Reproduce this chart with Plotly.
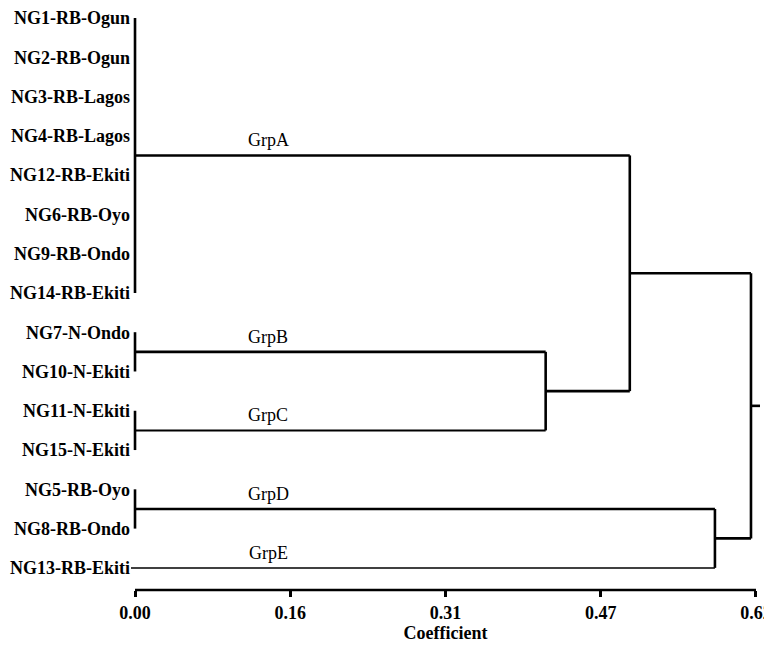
import plotly.graph_objects as go

# ---------------- data ----------------
leaf_labels = [
    "NG1-RB-Ogun", "NG2-RB-Ogun", "NG3-RB-Lagos", "NG4-RB-Lagos",
    "NG12-RB-Ekiti", "NG6-RB-Oyo", "NG9-RB-Ondo", "NG14-RB-Ekiti",
    "NG7-N-Ondo", "NG10-N-Ekiti", "NG11-N-Ekiti", "NG15-N-Ekiti",
    "NG5-RB-Oyo", "NG8-RB-Ondo", "NG13-RB-Ekiti",
]
group_names = ["GrpA", "GrpB", "GrpC", "GrpD", "GrpE"]
group_first = [0, 8, 10, 12, 14]
group_last = [7, 9, 11, 13, 14]
group_height = [0.0, 0.0, 0.0, 0.0, 0.0]

# merges: (left child, right child, new node name, coefficient)
merges = [
    ("GrpB", "GrpC", "BC", 0.41),
    ("GrpA", "BC", "ABC", 0.494),
    ("GrpD", "GrpE", "DE", 0.579),
    ("ABC", "DE", "ROOT", 0.615),
]
root_stub_end = 0.624

tick_vals = [0.0, 0.155, 0.31, 0.465, 0.62]
tick_text = ["0.00", "0.16", "0.31", "0.47", "0.62"]
x_title = "Coefficient"

# ---------------- figure ----------------
FONT = "Liberation Serif"
FS = 18
THICK = 2.6
thin_branch = {"GrpC": 2.0, "GrpE": 1.5}

fig = go.Figure()


def seg(x0, y0, x1, y1, w=THICK):
    fig.add_trace(go.Scatter(
        x=[x0, x1], y=[y0, y1], mode="lines",
        line=dict(color="black", width=w),
        showlegend=False, hoverinfo="skip",
    ))


nodes = {}
for name, f, l, h in zip(group_names, group_first, group_last, group_height):
    c = (f + l) / 2
    if l > f:
        seg(h, f, h, l)
        nodes[name] = (h, c)
    else:
        nodes[name] = (h - 0.004, c)

for a, b, new, hgt in merges:
    ha, ca = nodes[a]
    hb, cb = nodes[b]
    seg(ha, ca, hgt, ca, thin_branch.get(a, THICK))
    seg(hb, cb, hgt, cb, thin_branch.get(b, THICK))
    seg(hgt, ca, hgt, cb)
    nodes[new] = (hgt, (ca + cb) / 2)

rh, rc = nodes["ROOT"]
seg(rh, rc, root_stub_end, rc)

# group labels
for name in group_names:
    fig.add_annotation(
        x=0.133, y=nodes[name][1], text=name, showarrow=False,
        yshift=15, font=dict(family=FONT, size=FS, color="black"),
    )

# x-axis line from 0 to last tick
fig.add_shape(type="line", xref="x", yref="paper",
              x0=tick_vals[0], x1=tick_vals[-1], y0=0, y1=0,
              line=dict(color="black", width=THICK))

fig.update_layout(
    width=764, height=638,
    margin=dict(l=121, r=8, t=0, b=56),
    plot_bgcolor="white", paper_bgcolor="white",
    xaxis=dict(
        range=[-0.006, 0.626], showgrid=False, zeroline=False, showline=False,
        tickvals=tick_vals, ticktext=tick_text,
        ticks="outside", ticklen=6, tickwidth=2.5, tickcolor="black",
        ticklabeloverflow="allow",
        tickfont=dict(family=FONT, size=FS, color="black", weight="bold"),
        title=dict(text=x_title, standoff=4,
                   font=dict(family=FONT, size=FS, color="black", weight="bold")),
    ),
    yaxis=dict(
        range=[14.563, -0.126], showgrid=False, zeroline=False, showline=False,
        tickvals=list(range(len(leaf_labels))), ticktext=leaf_labels,
        ticks="", ticklabelstandoff=-2, ticklabeloverflow="allow",
        tickfont=dict(family=FONT, size=FS, color="black", weight="bold"),
    ),
)

fig.write_html("out.html")
